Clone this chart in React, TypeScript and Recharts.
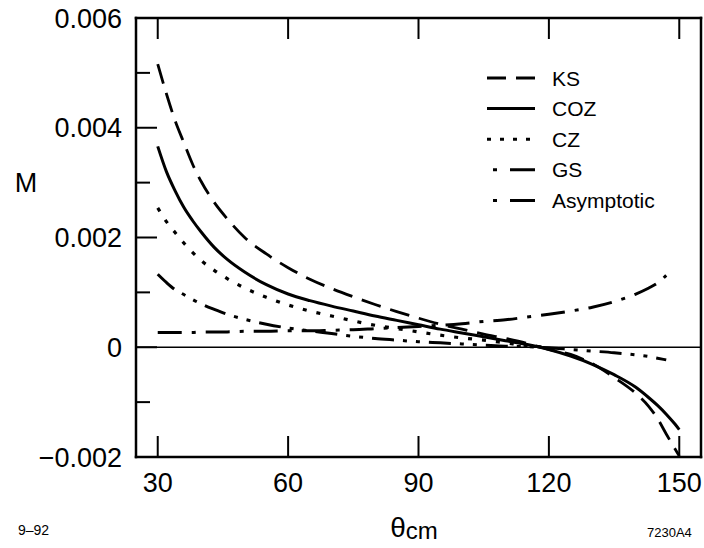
import React from 'react';
import { LineChart, Line, XAxis, YAxis, ReferenceLine, Legend } from 'recharts';

// scattering angle (deg) and the asymmetry M for each model
const thetas = [30, 32, 34, 36, 38, 40, 43, 46, 50, 55, 60, 65, 70, 75, 80, 85, 90, 95, 100, 105, 110, 115, 120, 125, 130, 135, 140, 143, 145, 147, 149, 150];
const ksValues = [0.00516, 0.00462, 0.00413, 0.00373, 0.00334, 0.00302, 0.00264, 0.00234, 0.002, 0.0017, 0.00145, 0.00124, 0.00107, 0.00092, 0.00078, 0.00065, 0.00053, 0.00042, 0.00033, 0.00024, 0.00016, 0.00007, -0.00004, -0.00013, -0.0003, -0.00055, -0.00084, -0.00108, -0.0013, -0.00158, -0.00185, -0.00198];
const cozValues = [0.00366, 0.0032, 0.00285, 0.00255, 0.00231, 0.0021, 0.00182, 0.0016, 0.00137, 0.00114, 0.00097, 0.00085, 0.00075, 0.00066, 0.00057, 0.00049, 0.00041, 0.00033, 0.00026, 0.00019, 0.00012, 0.00005, -0.00004, -0.00016, -0.00031, -0.0005, -0.00073, -0.00092, -0.00106, -0.00122, -0.0014, -0.0015];
const czValues = [0.00254, 0.00229, 0.00209, 0.0019, 0.00173, 0.00158, 0.0014, 0.00125, 0.00108, 0.00091, 0.00077, 0.00066, 0.00057, 0.00048, 0.0004, 0.00034, 0.00028, 0.00022, 0.00017, 0.00013, 0.00008, 0.00003, -0.00001, null, null, null, null, null, null, null, null, null];
const gsValues = [0.00133, 0.00118, 0.00105, 0.00096, 0.00087, 0.00079, 0.00069, 0.0006, 0.00051, 0.00042, 0.00035, 0.0003, 0.00025, 0.0002, 0.00016, 0.00013, 0.0001, 0.00008, 0.00006, 0.00004, 0.00002, 0.00001, -0.00001, -0.00004, -0.00007, -0.0001, -0.00014, -0.00017, -0.0002, -0.00023, null, null];
const asymptoticValues = [0.00027, 0.00027, 0.00027, 0.00027, 0.00027, 0.00028, 0.00028, 0.00028, 0.00029, 0.00029, 0.0003, 0.0003, 0.00031, 0.00032, 0.00034, 0.00036, 0.00038, 0.0004, 0.00043, 0.00047, 0.0005, 0.00055, 0.0006, 0.00066, 0.00073, 0.00083, 0.00097, 0.00108, 0.00117, 0.00131, null, null];

const xTicks = [30, 60, 90, 120, 150];
const yTicks = [-0.002, -0.001, 0, 0.001, 0.002, 0.003, 0.004, 0.005, 0.006];

const chartData = thetas.map((t, i) => ({
  theta: t,
  ks: ksValues[i],
  coz: cozValues[i],
  cz: czValues[i],
  gs: gsValues[i],
  asymptotic: asymptoticValues[i],
}));

const FONT = '"Liberation Sans", Arial, Helvetica, sans-serif';

const series = [
  { key: 'ks', name: 'KS', dash: '20 10', width: 2.8, legendDash: '19 10', legendX1: 2 },
  { key: 'coz', name: 'COZ', dash: undefined, width: 3, legendDash: undefined, legendX1: 2 },
  { key: 'cz', name: 'CZ', dash: '4 10', width: 3.2, legendDash: '4 9', legendX1: 2 },
  { key: 'gs', name: 'GS', dash: '22 9 4 9 4 9', width: 3, legendDash: '4 13 25 100', legendX1: 8 },
  { key: 'asymptotic', name: 'Asymptotic', dash: '24 10 4 10', width: 3, legendDash: '4 13 25 100', legendX1: 8 },
];

const fmtY = (v: number) => {
  if (Math.abs(v) < 1e-9) return '0';
  const s = Math.abs(v).toFixed(3);
  return v < 0 ? '\u2212' + s : s;
};
const isMajorY = (v: number) => Math.round(v * 1000) % 2 === 0;

const LeftTick = ({ x, y, payload }: any) => {
  const major = isMajorY(payload.value);
  return (
    <g>
      <line x1={x} x2={x + (major ? 21 : 14)} y1={y} y2={y} stroke="#000" strokeWidth={2} />
      {major && (
        <text x={x - 14} y={y} dy="0.36em" textAnchor="end" fontSize={27} fontFamily={FONT} fill="#000">
          {fmtY(payload.value)}
        </text>
      )}
    </g>
  );
};

const RightTick = ({ x, y, payload }: any) => {
  const major = isMajorY(payload.value);
  return <line x1={x} x2={x - (major ? 21 : 14)} y1={y} y2={y} stroke="#000" strokeWidth={2} />;
};

const BottomTick = ({ x, y, payload }: any) => (
  <g>
    <line x1={x} x2={x} y1={y} y2={y - 21} stroke="#000" strokeWidth={2} />
    <text x={x} y={y + 16} dy="0.71em" textAnchor="middle" fontSize={27} fontFamily={FONT} fill="#000">
      {payload.value}
    </text>
  </g>
);

const TopTick = ({ x, y }: any) => <line x1={x} x2={x} y1={y} y2={y + 21} stroke="#000" strokeWidth={2} />;

const MLabel = ({ viewBox }: any) => (
  <text x={viewBox.x + viewBox.width - 110} y={viewBox.y + viewBox.height * 0.375} dy="0.36em" textAnchor="middle" fontSize={27} fontFamily={FONT} fill="#000">
    M
  </text>
);

const ThetaLabel = ({ viewBox }: any) => (
  <text x={viewBox.x + viewBox.width * 0.492} y={viewBox.y + 80} textAnchor="middle" fontFamily={FONT} fill="#000">
    <tspan fontSize={28}>θ</tspan>
    <tspan fontSize={24} dy={2}>cm</tspan>
  </text>
);

const LegendBox = () => (
  <svg width={210} height={160}>
    {series.map((s, i) => {
      const cy = 16 + i * 30.6;
      return (
        <g key={s.key}>
          <line x1={s.legendX1} x2={50} y1={cy} y2={cy} stroke="#000" strokeWidth={3} strokeDasharray={s.legendDash} />
          <text x={67} y={cy} dy="0.36em" fontSize={21} fontFamily={FONT} fill="#000">
            {s.name}
          </text>
        </g>
      );
    })}
  </svg>
);

const frame = { stroke: '#000', strokeWidth: 2.5, strokeLinecap: 'square' as const };

const App = () => {
  return (
    <div style={{ position: 'absolute', left: 0, top: 0, width: 704, height: 548, background: '#fff' }}>
      <LineChart width={704} height={548} data={chartData} margin={{ top: 17, right: 2, bottom: 90, left: 135 }}>
        <XAxis
          xAxisId="bottom"
          dataKey="theta"
          type="number"
          domain={[25, 155]}
          ticks={xTicks}
          interval={0}
          height={1}
          tickSize={0}
          tickMargin={0}
          tickLine={false}
          axisLine={frame}
          tick={<BottomTick />}
          label={<ThetaLabel />}
        />
        <XAxis
          xAxisId="top"
          orientation="top"
          dataKey="theta"
          type="number"
          domain={[25, 155]}
          ticks={xTicks}
          interval={0}
          height={1}
          tickSize={0}
          tickMargin={0}
          tickLine={false}
          axisLine={frame}
          tick={<TopTick />}
        />
        <YAxis
          yAxisId="left"
          type="number"
          domain={[-0.002, 0.006]}
          ticks={yTicks}
          interval={0}
          width={1}
          tickSize={0}
          tickMargin={0}
          tickLine={false}
          axisLine={frame}
          tick={<LeftTick />}
          label={<MLabel />}
        />
        <YAxis
          yAxisId="right"
          orientation="right"
          type="number"
          domain={[-0.002, 0.006]}
          ticks={yTicks}
          interval={0}
          width={1}
          tickSize={0}
          tickMargin={0}
          tickLine={false}
          axisLine={frame}
          tick={<RightTick />}
        />
        <ReferenceLine xAxisId="bottom" yAxisId="left" y={0} stroke="#000" strokeWidth={1.6} />
        {series.map((s) => (
          <Line
            key={s.key}
            xAxisId="bottom"
            yAxisId="left"
            type="monotone"
            dataKey={s.key}
            name={s.name}
            stroke="#000"
            strokeWidth={s.width}
            strokeDasharray={s.dash}
            dot={false}
            activeDot={false}
            isAnimationActive={false}
          />
        ))}
        <Legend
          layout="horizontal"
          verticalAlign="middle"
          align="center"
          content={<LegendBox />}
          wrapperStyle={{ left: 485, top: 62, width: 210, height: 160 }}
        />
      </LineChart>
      <span style={{ position: 'absolute', left: 18, top: 522, fontSize: 14, fontFamily: FONT, lineHeight: '16px' }}>9–92</span>
      <span style={{ position: 'absolute', left: 647, top: 526, fontSize: 13, fontFamily: FONT, lineHeight: '14px' }}>7230A4</span>
    </div>
  );
};

export default App;
